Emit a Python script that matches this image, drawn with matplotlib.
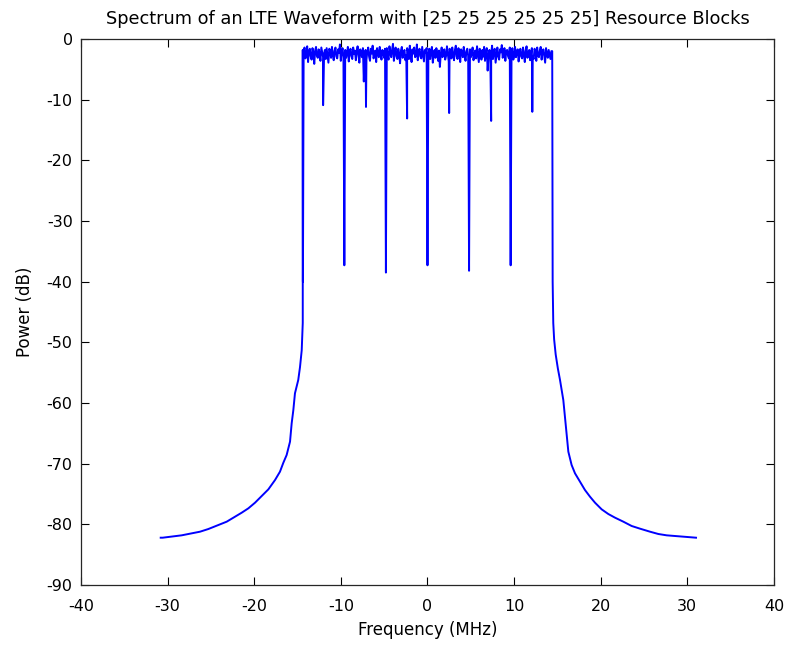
import numpy as np
import matplotlib
matplotlib.use("Agg")
import matplotlib.pyplot as plt

plt.rcParams['font.family'] = ['DejaVu Sans']
plt.rcParams['axes.unicode_minus'] = False

# ---- data ----
left_skirt_f = [-30.8, -30.57, -28.38, -27.42, -26.26, -25.30, -24.34, -23.18, -22.22, -21.45, -20.68, -19.91,
                -19.14, -18.37, -17.60, -17.03, -16.64, -16.26, -15.87, -15.68, -15.49, -15.30, -14.92, -14.72,
                -14.52, -14.40, -14.38]
left_skirt_p = [-82.2, -82.2, -81.81, -81.54, -81.21, -80.77, -80.22, -79.56, -78.74, -78.08, -77.36, -76.43,
                -75.33, -74.23, -72.69, -71.32, -69.84, -68.57, -66.37, -63.35, -61.2, -58.4, -56.2, -54.1,
                -51.3, -46.8, -40.0]
right_skirt_f = [14.45, 14.52, 14.62, 14.80, 15.05, 15.30, 15.49, 15.68, 15.87, 16.07, 16.26, 16.64, 17.03,
                 17.60, 18.18, 18.76, 19.34, 20.11, 20.88, 21.65, 22.61, 23.57, 24.53, 25.69, 26.65, 27.61,
                 29.53, 31.0]
right_skirt_p = [-40.0, -46.8, -49.5, -52.0, -54.3, -56.21, -57.86, -59.51, -62.25, -65.0, -68.02, -70.22, -71.59,
                 -72.97, -74.34, -75.44, -76.43, -77.53, -78.30, -78.90, -79.56, -80.27, -80.71, -81.21, -81.59,
                 -81.81, -82.03, -82.2]

block_edges = [-14.4, -9.6, -4.8, 0.0, 4.8, 9.6, 14.4]
edge_power = [-1.8, -37.3, -38.5, -37.3, -38.2, -37.3, -2.0]

center_dip_f = [-12.05, -7.1, -2.35, 2.5, 7.35, 12.1]
center_dip_p = [-10.9, -11.2, -13.1, -12.2, -13.5, -12.0]

block1 = [-2.1, -1.4, -3.2, -2.6, -1.2, -3.8, -2.0, -1.6, -2.9, -3.4, -1.5, -2.3, -4.1, -1.9, -1.3, -2.8, -3.1, -1.7, -2.4, -3.6, -1.4, -2.2, -3.0, -2.5, -1.8, -3.3, -1.5, -2.7, -3.9, -1.6, -2.0, -3.1, -1.3, -2.6, -3.5, -1.9, -1.4, -2.9, -3.2, -1.7, -2.3, -0.9, -3.6, -2.1, -1.5, -3.0]
block2 = [-1.8, -3.1, -2.4, -1.3, -3.7, -2.2, -1.6, -2.8, -3.3, -1.4, -2.5, -1.9, -3.5, -2.0, -1.2, -2.7, -3.9, -1.7, -2.3, -3.0, -1.5, -7.0, -2.6, -1.8, -3.4, -2.1, -1.4, -2.9, -3.6, -1.6, -2.4, -1.1, -3.2, -2.7, -1.9, -3.8, -1.5, -2.2, -3.0, -1.3, -2.6, -3.4, -1.8, -2.1, -3.1, -1.6]
block3 = [-1.5, -2.8, -3.4, -1.2, -2.3, -3.0, -1.7, -0.8, -3.6, -2.1, -1.4, -2.9, -3.3, -1.6, -2.5, -4.0, -1.9, -1.3, -3.1, -2.2, -1.8, -3.5, -2.7, -1.5, -2.0, -3.3, -1.1, -2.6, -3.8, -1.7, -2.4, -1.4, -3.0, -2.8, -0.9, -3.5, -2.1, -1.6, -2.9, -3.2, -1.3, -2.5, -3.7, -1.8, -2.2, -1.5]
block4 = [-2.4, -1.6, -3.3, -2.0, -1.3, -3.9, -2.7, -1.8, -3.1, -1.5, -2.2, -3.6, -1.9, -4.6, -2.5, -1.4, -3.0, -2.1, -1.7, -3.4, -2.8, -1.2, -2.4, -3.7, -1.6, -2.0, -3.2, -1.4, -2.6, -3.5, -1.8, -1.1, -2.9, -3.3, -1.5, -2.3, -3.8, -1.7, -2.1, -3.0, -1.3, -2.7, -3.6, -2.0, -1.6, -2.8]
block5 = [-1.7, -3.0, -2.3, -1.4, -3.5, -2.6, -1.9, -3.2, -1.2, -2.5, -3.8, -1.6, -2.1, -3.4, -1.8, -2.9, -1.3, -3.6, -2.2, -1.5, -5.2, -2.7, -1.8, -3.1, -2.4, -1.1, -3.3, -2.0, -1.6, -3.9, -2.6, -1.4, -2.9, -3.4, -1.7, -2.2, -1.0, -3.1, -2.5, -1.5, -3.6, -2.0, -1.8, -2.8, -3.2, -1.4]
block6 = [-2.2, -1.5, -3.4, -2.8, -1.3, -3.0, -2.1, -1.7, -3.7, -2.4, -1.6, -2.9, -3.2, -1.4, -2.5, -3.8, -1.9, -1.2, -3.1, -2.6, -1.8, -3.5, -2.3, -1.5, -2.9, -3.3, -1.6, -2.0, -3.6, -1.4, -2.7, -3.0, -1.9, -1.3, -3.4, -2.2, -1.7, -2.8, -3.9, -1.5, -2.4, -3.1, -1.8, -2.6, -3.3, -2.0]
blocks = [block1, block2, block3, block4, block5, block6]

x_ticks = [-40, -30, -20, -10, 0, 10, 20, 30, 40]
y_ticks = [-90, -80, -70, -60, -50, -40, -30, -20, -10, 0]

# ---- assemble spectrum ----
f_all = list(left_skirt_f) + list(block_edges) + list(center_dip_f) + list(right_skirt_f)
p_all = list(left_skirt_p) + list(edge_power) + list(center_dip_p) + list(right_skirt_p)
for b0, b1, vals in zip(block_edges[:-1], block_edges[1:], blocks):
    fb = np.linspace(b0, b1, len(vals) + 2)[1:-1]
    f_all += list(fb)
    p_all += list(vals)
order = np.argsort(f_all, kind='stable')
f_all = np.array(f_all)[order]
p_all = np.array(p_all)[order]

# ---- plot ----
fig = plt.figure(figsize=(7.88, 6.47), dpi=100, facecolor='white')
ax = fig.add_axes([0.1028, 0.0958, 0.8794, 0.8439])
ax.plot(f_all, p_all, color='#0000ff', linewidth=1.4)
ax.set_xlim(-40, 40)
ax.set_ylim(-90, 0)
ax.set_xticks(x_ticks)
ax.set_yticks(y_ticks)
ax.tick_params(direction='in', top=True, right=True, length=6, width=0.8, labelsize=11.5)
ax.tick_params(axis='y', pad=6)
ax.tick_params(axis='x', pad=10)
for s in ax.spines.values():
    s.set_linewidth(0.9)
    s.set_color('#262626')
ax.set_xlabel('Frequency (MHz)', fontsize=12, labelpad=5)
ax.set_ylabel('Power (dB)', fontsize=12, labelpad=9)
ax.set_title('Spectrum of an LTE Waveform with [25 25 25 25 25 25] Resource Blocks', fontsize=12.8, pad=11)
fig.savefig('out.png', dpi=100, facecolor='white')
